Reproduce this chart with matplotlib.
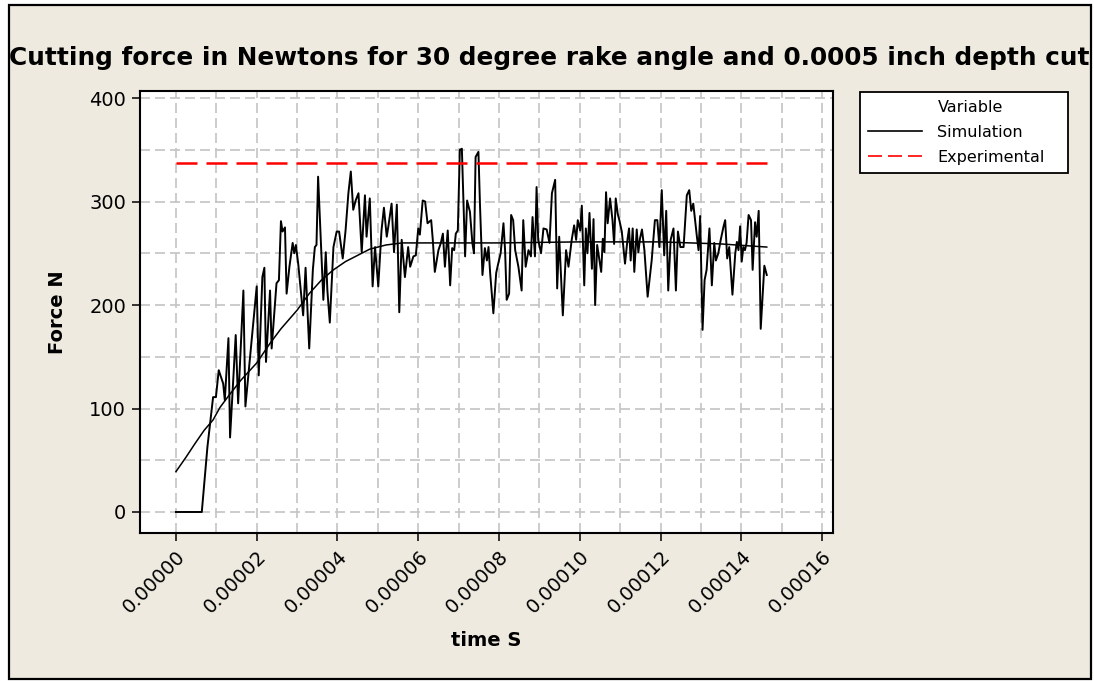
import matplotlib
matplotlib.use("Agg")
import matplotlib.pyplot as plt
from matplotlib.lines import Line2D
from matplotlib.patches import Rectangle
from matplotlib.ticker import MultipleLocator, FixedLocator, FixedFormatter

# ---------------- data ----------------
title = "Cutting force in Newtons for 30 degree rake angle and 0.0005 inch depth cut"
x_label = "time S"
y_label = "Force N"
legend_title = "Variable"
series_names = ["Simulation", "Experimental"]

# simulation (noisy) – time in microseconds, force in N
sim_t_us = [0, 6.4, 7.8, 9.2, 9.9, 10.6, 11.7, 12.1, 13.0, 13.4, 14.8, 15.4, 16.7, 17.2, 20.0,
            20.5, 21.4, 21.9, 22.3, 23.3, 23.7, 24.9, 25.5, 26.0, 26.4, 27.0, 27.4, 28.1, 28.9,
            29.3, 29.7, 30.3, 31.5, 32.1, 33.0, 33.9, 34.4, 34.8, 35.2, 35.7, 36.5, 37.1, 37.5,
            38.1, 39.0, 39.8, 40.4, 41.3, 42.0, 42.7, 43.3, 43.9, 44.5, 45.2, 46.0, 46.8, 47.2,
            48.0, 48.7, 49.3, 50.1, 50.9, 51.5, 52.2, 52.6, 53.4, 54.0, 54.7, 55.3, 55.9, 56.7,
            57.5, 58.0, 58.8, 59.4, 60.0, 60.4, 61.1, 61.7, 62.3, 63.2, 63.6, 64.1, 65.0, 65.6,
            66.1, 66.6, 67.3, 67.9, 68.4, 68.9, 69.3, 69.8, 70.3, 70.8, 71.6, 72.1, 72.8, 73.4,
            73.8, 74.2, 74.9, 75.3, 75.9, 76.5, 77.0, 77.4, 77.8, 78.6, 79.3, 79.8, 80.4, 81.1,
            81.5, 81.9, 82.5, 83.0, 83.5, 84.0, 84.8, 85.6, 86.0, 86.6, 87.3, 87.9, 88.3, 88.9,
            89.3, 89.7, 90.4, 91.0, 91.8, 92.5, 93.1, 93.9, 94.4, 94.9, 95.8, 96.6, 97.2, 98.0,
            98.6, 99.1, 99.5, 100.1, 100.5, 101.1, 101.5, 101.9, 102.4, 103.0, 103.4, 103.8,
            104.3, 104.8, 105.3, 105.7, 106.1, 106.5, 106.9, 107.5, 108.1, 108.5, 108.9, 109.4,
            109.8, 110.4, 111.2, 111.8, 112.2, 112.6, 113.1, 113.5, 114.1, 114.5, 114.9, 115.4,
            116.0, 116.8, 117.8, 118.6, 119.2, 119.7, 120.3, 120.9, 121.4, 121.9, 122.5, 123.2,
            123.8, 124.3, 124.9, 125.7, 126.5, 127.1, 127.6, 128.1, 129.0, 129.4, 129.8, 130.4,
            130.9, 131.4, 132.1, 132.7, 133.3, 133.7, 134.3, 134.9, 135.6, 136.0, 136.5, 137.0,
            137.8, 138.5, 138.9, 139.3, 139.7, 140.1, 140.5, 140.9, 141.3, 141.8, 142.4, 142.8,
            143.4, 143.8, 144.3, 144.8, 145.7, 146.3]
sim_force = [0, 0, 63, 111, 111, 137, 124, 108, 168, 72, 171, 105, 214, 102, 218,
             132, 227, 236, 145, 214, 158, 221, 224, 281, 271, 275, 211, 237, 260,
             250, 258, 239, 190, 236, 158, 234, 256, 258, 324, 279, 205, 251, 214,
             183, 256, 271, 271, 245, 272, 308, 329, 292, 301, 308, 251, 306, 266,
             303, 218, 256, 218, 272, 294, 266, 276, 298, 251, 297, 193, 263, 227,
             256, 237, 247, 248, 274, 268, 301, 300, 279, 282, 263, 232, 253, 260,
             269, 237, 272, 219, 255, 253, 269, 272, 350, 351, 247, 301, 290, 260,
             250, 343, 348, 295, 229, 255, 243, 256, 231, 192, 231, 240, 250, 279,
             253, 205, 211, 287, 282, 253, 237, 214, 282, 237, 253, 247, 285, 247,
             314, 263, 250, 274, 273, 260, 308, 321, 216, 266, 190, 253, 237, 263,
             277, 263, 282, 272, 296, 219, 274, 250, 289, 235, 283, 200,
             258, 245, 232, 264, 251, 309, 279, 303, 282, 259, 303, 288,
             282, 271, 240, 263, 274, 243, 274, 232, 273, 251, 264, 273,
             253, 208, 243, 282, 282, 256, 311, 248, 291, 214, 263, 274,
             214, 271, 256, 256, 306, 311, 291, 298, 266, 253, 286, 176,
             224, 234, 274, 219, 260, 243, 250, 263, 276, 282, 245, 256,
             210, 250, 261, 253, 276, 242, 256, 253, 260, 287, 282, 234,
             280, 266, 291, 177, 238, 229]

# smooth (fitted) simulation curve
fit_t_us = [0, 2.5, 4.7, 7, 9.2, 10.9, 13, 16, 20, 23.3, 26, 30, 33, 36, 39, 42, 45, 48,
            52, 56, 65, 80, 100, 120, 135, 146.3]
fit_force = [39, 53, 66, 79, 89, 101, 112, 127, 144, 163, 177, 195, 211, 224, 234, 242, 248,
             254, 258, 260, 260, 260, 261, 261, 259, 256]

# experimental value
exp_t_us = [0, 146.3]
exp_force = [337.5, 337.5]

x_ticks = [0, 0.00002, 0.00004, 0.00006, 0.00008, 0.00010, 0.00012, 0.00014, 0.00016]
x_tick_labels = ["0.00000", "0.00002", "0.00004", "0.00006", "0.00008",
                 "0.00010", "0.00012", "0.00014", "0.00016"]
y_ticks = [0, 100, 200, 300, 400]
y_tick_labels = ["0", "100", "200", "300", "400"]

# ---------------- figure ----------------
W, H = 1094, 681
BG = "#EEEAE0"
fig = plt.figure(figsize=(W / 100, H / 100), dpi=100, facecolor="white")
plt.rcParams["font.family"] = ["DejaVu Sans"]

# outer frame (drawn beneath the axes)
frame = Rectangle((9 / W, 1 - 679 / H), (1091 - 9) / W, (679 - 5) / H,
                  transform=fig.transFigure, facecolor=BG, edgecolor="black",
                  linewidth=1.6, zorder=-5)
fig.add_artist(frame)

ax = fig.add_axes([140 / W, 1 - 533 / H, (833 - 140) / W, (533 - 91) / H])
ax.set_zorder(2)
ax.set_facecolor("white")

us = 1e-6
sim_t = [t * us for t in sim_t_us]
fit_t = [t * us for t in fit_t_us]
exp_t = [t * us for t in exp_t_us]

sim_line, = ax.plot(sim_t, sim_force, color="black", linewidth=1.4, zorder=3)
ax.plot(fit_t, fit_force, color="black", linewidth=1.1, zorder=3)
exp_line, = ax.plot(exp_t, exp_force, color="#FF0000", linewidth=1.8, zorder=3,
                    dashes=(8.4, 3.6))

ax.set_xlim(-8.9e-6, 162.7e-6)
ax.set_ylim(-20.3, 406.8)

ax.xaxis.set_major_locator(FixedLocator(x_ticks))
ax.xaxis.set_major_formatter(FixedFormatter(x_tick_labels))
ax.yaxis.set_major_locator(FixedLocator(y_ticks))
ax.yaxis.set_major_formatter(FixedFormatter(y_tick_labels))
ax.xaxis.set_minor_locator(MultipleLocator(0.00001))
ax.yaxis.set_minor_locator(MultipleLocator(50))

grid_kw = dict(color="#C4C4C4", linewidth=1.2, linestyle=(0, (6, 3)))
ax.grid(True, which="both", **grid_kw)
ax.set_axisbelow(True)

ax.tick_params(which="minor", length=0)
ax.tick_params(which="major", direction="out", length=6, width=1.1, color="black",
               labelsize=14, pad=4)
for lab in ax.get_xticklabels():
    lab.set_rotation(45)
    lab.set_ha("right")
    lab.set_va("top")
    lab.set_rotation_mode("anchor")
for sp in ax.spines.values():
    sp.set_linewidth(1.5)
    sp.set_color("black")

ax.set_xlabel(x_label, fontsize=14, fontweight="bold", labelpad=10)
ax.set_ylabel(y_label, fontsize=14, fontweight="bold", labelpad=16)

# title fitted to the reference width
t = fig.text(0.5 + 2 / W, 1 - 65 / H, title, ha="center", va="baseline",
             fontsize=15, fontweight="bold")
fig.canvas.draw()
w = t.get_window_extent().width
t.set_fontsize(15 * 1078 / w)

# legend
blank = Line2D([], [], color="none")
leg = ax.legend([blank, sim_line, exp_line], [legend_title] + series_names,
                loc="upper left", mode="expand",
                bbox_to_anchor=(860 / W, 1 - 171 / H, 208 / W, 79 / H),
                bbox_transform=fig.transFigure, borderaxespad=0,
                fontsize=11.5, handlelength=3.4, handletextpad=0.95,
                borderpad=0.5, labelspacing=0.62, fancybox=False,
                framealpha=1, edgecolor="black")
leg.get_frame().set_linewidth(1.3)
for ln in leg.get_lines():
    ln.set_linewidth(1.2)

fig.savefig("out.png", dpi=100, facecolor=fig.get_facecolor())
